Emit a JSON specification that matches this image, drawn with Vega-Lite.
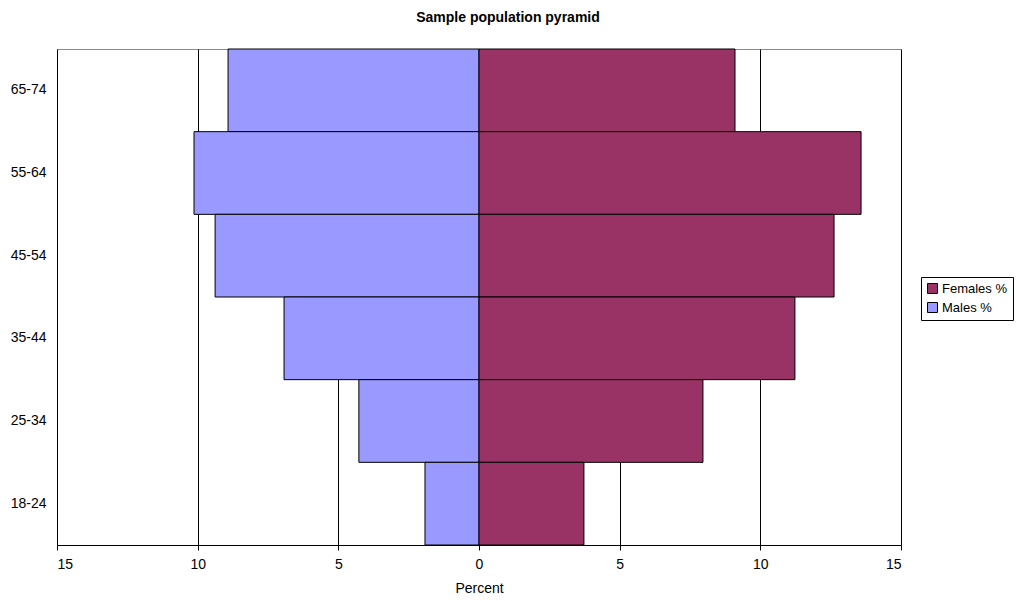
{
  "$schema": "https://vega.github.io/schema/vega-lite/v6.json",
  "autosize": "none",
  "width": 844,
  "height": 496,
  "padding": {"left": 57, "top": 49, "right": 116, "bottom": 56},
  "background": "white",
  "config": {
    "font": "Liberation Sans",
    "view": {"stroke": "#888888", "strokeWidth": 1}
  },
  "title": {
    "text": "Sample population pyramid",
    "fontSize": 14,
    "fontWeight": "bold",
    "font": "Liberation Sans",
    "color": "#000000",
    "anchor": "middle",
    "dx": 29,
    "offset": 24
  },
  "data": {
    "values": [
      {"age": "65-74", "sex": "Males %", "value": -8.92},
      {"age": "55-64", "sex": "Males %", "value": -10.13},
      {"age": "45-54", "sex": "Males %", "value": -9.38},
      {"age": "35-44", "sex": "Males %", "value": -6.93},
      {"age": "25-34", "sex": "Males %", "value": -4.27},
      {"age": "18-24", "sex": "Males %", "value": -1.92},
      {"age": "65-74", "sex": "Females %", "value": 9.10},
      {"age": "55-64", "sex": "Females %", "value": 13.58},
      {"age": "45-54", "sex": "Females %", "value": 12.62},
      {"age": "35-44", "sex": "Females %", "value": 11.23},
      {"age": "25-34", "sex": "Females %", "value": 7.96},
      {"age": "18-24", "sex": "Females %", "value": 3.73}
    ]
  },
  "mark": {"type": "bar", "stroke": "#000000", "strokeWidth": 1, "opacity": 1},
  "encoding": {
    "y": {
      "field": "age",
      "type": "nominal",
      "sort": ["65-74", "55-64", "45-54", "35-44", "25-34", "18-24"],
      "scale": {"paddingInner": 0, "paddingOuter": 0},
      "axis": {
        "title": null,
        "ticks": false,
        "domain": false,
        "labelFontSize": 14,
        "labelColor": "#000000",
        "labelPadding": 11,
        "labelFont": "Liberation Sans"
      }
    },
    "x": {
      "field": "value",
      "type": "quantitative",
      "scale": {"domain": [-15, 15], "nice": false},
      "axis": {
        "title": "Percent",
        "titleFontSize": 14,
        "titleFontWeight": "normal",
        "titleColor": "#000000",
        "titlePadding": 10,
        "values": [-15, -10, -5, 0, 5, 10, 15],
        "labelExpr": "abs(datum.value)",
        "labelFontSize": 14,
        "labelColor": "#000000",
        "labelPadding": 7,
        "domainColor": "#000000",
        "tickColor": "#000000",
        "tickSize": 5,
        "grid": true,
        "gridColor": "#000000",
        "gridOpacity": 1
      }
    },
    "color": {
      "field": "sex",
      "type": "nominal",
      "scale": {"domain": ["Females %", "Males %"], "range": ["#993366", "#9999ff"]},
      "legend": {
        "title": null,
        "orient": "none",
        "legendX": 864,
        "legendY": 228,
        "direction": "vertical",
        "strokeColor": "#000000",
        "padding": 5,
        "symbolType": "square",
        "symbolSize": 100,
        "symbolStrokeColor": "#000000",
        "symbolStrokeWidth": 1,
        "labelFontSize": 13,
        "labelColor": "#000000",
        "labelOffset": 3,
        "labelLimit": 200,
        "rowPadding": 4,
        "fillColor": "white"
      }
    }
  }
}
